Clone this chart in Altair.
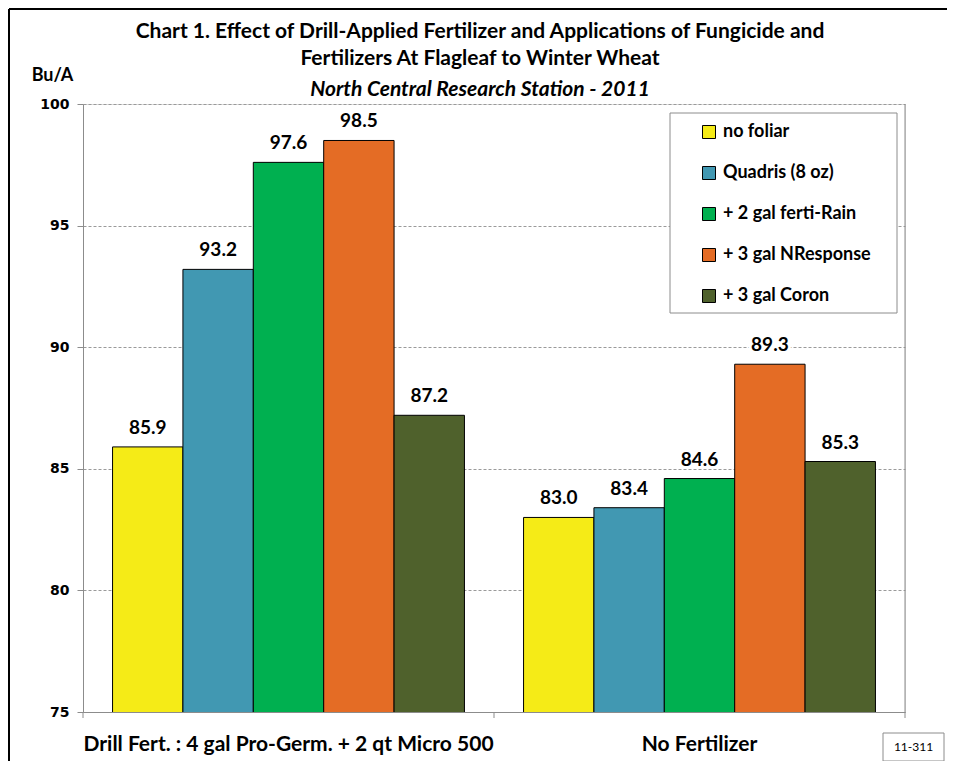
import altair as alt
import pandas as pd

groups = ["Drill Fert. : 4 gal Pro-Germ. + 2 qt Micro 500", "No Fertilizer"]
series = ["no foliar", "Quadris (8 oz)", "+ 2 gal ferti-Rain", "+ 3 gal NResponse", "+ 3 gal Coron"]
drill_values = [85.9, 93.2, 97.6, 98.5, 87.2]
nofert_values = [83.0, 83.4, 84.6, 89.3, 85.3]
colors = ["#F5EB17", "#4198B2", "#00B050", "#E46C25", "#4F612C"]
y_ticks = [75, 80, 85, 90, 95, 100]
title_lines = ["Chart 1. Effect of Drill-Applied Fertilizer and Applications of Fungicide and",
               "Fertilizers At Flagleaf to Winter Wheat"]
subtitle = "North Central Research Station - 2011"
tag = "11-311"

rows = []
for g, vals in zip(groups, [drill_values, nofert_values]):
    for s, v in zip(series, vals):
        rows.append({"group": g, "series": s, "value": v})
df = pd.DataFrame(rows)

W, H = 822, 608
PAD_L, PAD_T, PAD_R, PAD_B = 75, 96, 42, 49
GRAY = "#8C8C8C"

x_enc = alt.X("group:N", sort=groups,
              scale=alt.Scale(paddingInner=0, paddingOuter=0),
              axis=alt.Axis(title=None, labelAngle=0, ticks=False, domainColor=GRAY,
                            labelFont="Lato", labelFontWeight="bold", labelFontSize=21,
                            labelPadding=21, labelColor="black", labelLimit=600, grid=False))
xoff_enc = alt.XOffset("series:N", sort=series,
                       scale=alt.Scale(paddingOuter=0.42, paddingInner=0))
y_enc = alt.Y("value:Q", scale=alt.Scale(domain=[75, 100], nice=False, zero=False),
              axis=alt.Axis(values=y_ticks, title="Bu/A", titleAngle=0, titleX=-31, titleY=-29,
                            titleAlign="center", titleBaseline="middle", titleFont="Lato",
                            titleFontSize=18, titleFontWeight="bold", titleColor="black",
                            labelFont="DejaVu Sans", labelFontSize=14, labelFontWeight="bold",
                            labelColor="black", labelPadding=8, tickSize=6, tickColor=GRAY,
                            domainColor=GRAY, gridColor="#9A9A9A", gridDash=[3, 2]))

base = alt.Chart(df)

bars = base.mark_bar(stroke="black", strokeWidth=1, clip=True).encode(
    x=x_enc, xOffset=xoff_enc, y=y_enc,
    color=alt.Color("series:N", sort=series,
                    scale=alt.Scale(domain=series, range=colors),
                    legend=alt.Legend(title=None, orient="none", legendX=617, legendY=19,
                                      symbolType="square", symbolSize=169,
                                      symbolStrokeColor="black", symbolStrokeWidth=1,
                                      labelFont="Lato", labelFontSize=18, labelFontWeight="bold",
                                      labelColor="black", rowPadding=23, labelOffset=5,
                                      padding=0)),
)

label_halo = base.mark_text(baseline="alphabetic", dy=-13, font="Lato", fontSize=19,
                            fontWeight="bold", color="white", stroke="white",
                            strokeWidth=6).encode(
    x=x_enc, xOffset=xoff_enc, y=y_enc,
    text=alt.Text("value:Q", format=".1f"),
)
labels = base.mark_text(baseline="alphabetic", dy=-13, font="Lato", fontSize=19,
                        fontWeight="bold", color="black").encode(
    x=x_enc, xOffset=xoff_enc, y=y_enc,
    text=alt.Text("value:Q", format=".1f"),
)

one = alt.Data(values=[{"k": 1}])
gdata = alt.Data(values=[{"group": g} for g in groups])

legend_box = alt.Chart(one).mark_rect(fill="white", stroke=GRAY, strokeWidth=1).encode(
    x=alt.value(587), x2=alt.value(814), y=alt.value(9), y2=alt.value(209))

ticks_start = alt.Chart(gdata).mark_rule(color=GRAY, strokeWidth=1).encode(
    x=alt.X("group:N", sort=groups, bandPosition=0),
    y=alt.value(H), y2=alt.value(H + 6))

right_edge = alt.Chart(gdata).transform_filter(
    alt.datum.group == groups[-1]).mark_rule(color=GRAY, strokeWidth=1).encode(
    x=alt.X("group:N", sort=groups, bandPosition=1),
    y=alt.value(0), y2=alt.value(H + 6))

border_top = alt.Chart(one).mark_rule(color="black", strokeWidth=2).encode(
    x=alt.value(-74), x2=alt.value(W + PAD_R), y=alt.value(-95))
border_left = alt.Chart(one).mark_rule(color="black", strokeWidth=2).encode(
    x=alt.value(-74), y=alt.value(-95), y2=alt.value(H + PAD_B))

tag_box = alt.Chart(one).mark_rect(fill="white", stroke=GRAY, strokeWidth=1).encode(
    x=alt.value(800), x2=alt.value(861), y=alt.value(629), y2=alt.value(657))
tag_text = alt.Chart(one).mark_text(font="Lato", fontSize=12, color="black").encode(
    x=alt.value(830.5), y=alt.value(643), text=alt.value(tag))

title1 = alt.Chart(one).mark_text(font="Lato", fontSize=21, fontWeight="bold",
                                  color="black", baseline="middle").encode(
    x=alt.value(397), y=alt.value(-72), text=alt.value(title_lines[0]))
title2 = alt.Chart(one).mark_text(font="Lato", fontSize=21, fontWeight="bold",
                                  color="black", baseline="middle").encode(
    x=alt.value(397), y=alt.value(-45), text=alt.value(title_lines[1]))
title3 = alt.Chart(one).mark_text(font="Lato", fontSize=21, fontWeight="bold",
                                  fontStyle="italic", color="black", baseline="middle").encode(
    x=alt.value(397), y=alt.value(-14), text=alt.value(subtitle))

chart = alt.layer(
    bars, label_halo, labels, legend_box, ticks_start, right_edge, border_top, border_left,
    tag_box, tag_text, title1, title2, title3
).properties(
    width=W, height=H,
    autosize=alt.AutoSizeParams(type="none"),
    padding={"left": PAD_L, "top": PAD_T, "right": PAD_R, "bottom": PAD_B},
).configure_view(stroke=None).configure(background="white")

chart.save("out.html", embed_options={"renderer": "svg", "actions": False})
